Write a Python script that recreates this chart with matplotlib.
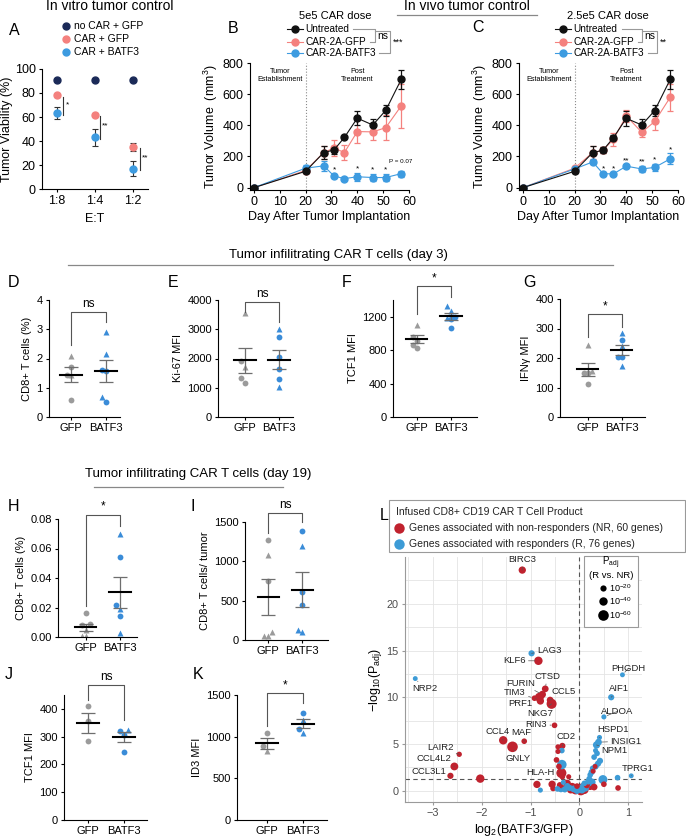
import numpy as np
import matplotlib.pyplot as plt
from matplotlib.patches import Rectangle

plt.rcParams['font.family'] = ['Liberation Sans', 'DejaVu Sans']
plt.rcParams['mathtext.fontset'] = 'custom'
plt.rcParams['mathtext.rm'] = 'Liberation Sans'
plt.rcParams['mathtext.it'] = 'Liberation Sans:italic'
plt.rcParams['axes.linewidth'] = 0.8

# ---------------- data ----------------
# A: in vitro tumor control
et_ratio = ['1:8', '1:4', '1:2']
a_nocar = [91, 91, 91]
a_nocar_err = [0.8, 0.8, 0.8]
a_gfp = [78, 62, 35]
a_gfp_err = [1, 1, 3]
a_batf3 = [63, 43, 17]
a_batf3_err = [5, 7, 6]
a_sig = ['*', '**', '**']

# B, C: tumor volume over time
days = [0, 20, 27, 31, 35, 40, 46, 51, 57]
b_unt = [0, 105, 225, 242, 322, 446, 402, 496, 695]
b_unt_err = [0, 10, 40, 25, 10, 45, 40, 35, 60]
b_gfp = [0, 110, 225, 255, 225, 360, 358, 385, 525]
b_gfp_err = [0, 10, 40, 50, 50, 75, 55, 80, 140]
b_bat = [0, 125, 140, 75, 58, 70, 65, 65, 90]
b_bat_err = [0, 20, 30, 10, 8, 25, 25, 25, 20]
b_sig = ['', '', '', '*', '', '*', '*', '*', '']

c_unt = [0, 105, 225, 240, 320, 445, 402, 495, 695]
c_unt_err = [0, 8, 45, 20, 15, 50, 40, 35, 60]
c_gfp = [0, 125, 225, 240, 310, 460, 355, 425, 580]
c_gfp_err = [0, 10, 40, 20, 40, 40, 30, 55, 85]
c_bat = [0, 120, 165, 90, 88, 138, 120, 130, 185]
c_bat_err = [0, 10, 15, 8, 8, 10, 20, 25, 35]
c_sig = ['', '', '', '*', '*', '**', '**', '*', '*']

# D-K: tumor infiltrating CAR T cells (values, marker per mouse)
d_gfp = [2.07, 1.70, 1.45, 1.45, 0.58]
d_gfp_mk = ['^', 'o', 'o', '^', 'o']
d_bat = [2.92, 2.15, 1.60, 1.58, 0.67, 0.52]
d_bat_mk = ['^', '^', 'o', 'o', '^', 'o']

e_gfp = [3550, 1720, 1900, 1320, 1170]
e_gfp_mk = ['^', '^', 'o', 'o', 'o']
e_bat = [3020, 2730, 2060, 1650, 1300, 1020]
e_bat_mk = ['^', 'o', 'o', 'o', 'o', '^']

f_gfp = [1100, 960, 910, 860, 820]
f_gfp_mk = ['^', 'o', 'o', 'o', 'o']
f_bat = [1330, 1270, 1190, 1195, 1175, 1060]
f_bat_mk = ['^', '^', '^', 'o', 'o', 'o']

g_gfp = [243, 155, 150, 148, 112]
g_gfp_mk = ['^', '^', 'o', 'o', 'o']
g_bat = [285, 262, 240, 205, 203, 172]
g_bat_mk = ['^', 'o', '^', 'o', 'o', '^']

h_gfp = [0.0165, 0.009, 0.008, 0.005, 0.001, 0.0008]
h_gfp_mk = ['o', 'o', 'o', '^', '^', '^']
h_bat = [0.070, 0.054, 0.022, 0.019, 0.014, 0.003]
h_bat_mk = ['^', 'o', 'o', '^', 'o', '^']

i_gfp = [1270, 1080, 750, 100, 50, 50]
i_gfp_mk = ['o', '^', 'o', '^', '^', '^']
i_bat = [1380, 1190, 610, 440, 130, 100]
i_bat_mk = ['o', '^', 'o', 'o', '^', '^']

j_gfp = [410, 355, 283]
j_gfp_mk = ['o', 'o', 'o']
j_bat = [325, 322, 305, 245]
j_bat_mk = ['^', 'o', 'o', 'o']

k_gfp = [1040, 890, 830]
k_gfp_mk = ['o', 'o', '^']
k_bat = [1280, 1200, 1090, 1050]
k_bat_mk = ['o', '^', 'o', '^']

# L: volcano, x = log2(BATF3/GFP), y = -log10(Padj), s = -log10(Padj R vs NR)
nr_gene = ['BIRC3', 'KLF6', 'CTSD', 'FURIN', 'TIM3', 'PRF1', 'CCL5', 'NKG7', '',
           'RIN3', 'CCL4', 'MAF', 'GNLY', 'LAIR2', 'CCL4L2', 'CCL3L1', '', 'CD2', 'HLA-H',
           '', '', '', '', '', '', '', '', '', '', '', '', '', '', '', '', '', '', '', '',
           '', '', '', '', '', '']
nr_x = [-1.17, -0.84, -0.70, -0.76, -0.92, -0.82, -0.60, -0.57, -0.80,
        -0.51, -1.56, -1.13, -1.37, -2.46, -2.56, -2.64, -2.03, -0.35, -0.37,
        -0.87, -0.56, -0.54, -0.47, -0.44, -0.44, -0.42, -0.35, -0.22, -0.25, -0.15, -0.08,
        0.03, 0.10, 0.22, 0.30, 0.28, 0.32, 0.50, 0.79, -0.30, -0.40, 0.15, -0.05, -0.18, 0.05]
nr_y = [23.6, 13.9, 10.9, 10.3, 9.9, 10.0, 9.7, 9.3, 9.6,
        7.0, 5.4, 5.3, 4.7, 3.9, 2.6, 1.6, 1.3, 4.8, 1.9,
        0.68, 0.7, 0.25, 3.3, 4.7, 4.2, 2.6, 1.5, 1.5, 0.8, 0.4, 0.15,
        0.05, 0.1, 0.5, 0.4, 2.1, 2.6, 0.7, 0.3, 0.3, 0.6, 0.6, 0.5, 0.1, 0.3]
nr_s = [30, 40, 25, 30, 15, 45, 25, 55, 30,
        15, 40, 15, 60, 12, 35, 20, 40, 20, 55,
        30, 30, 15, 15, 10, 10, 15, 15, 10, 30, 40, 55,
        55, 40, 35, 25, 10, 8, 15, 15, 20, 20, 20, 15, 30, 45]

r_gene = ['NRP2', 'LAG3', 'PHGDH', 'AIF1', 'ALDOA', 'HSPD1', 'INSIG1', 'NPM1', 'TPRG1',
          '', '', '', '', '', '', '', '', '', '', '', '', '', '', '', '', '', '', '', '',
          '', '', '', '', '', '', '', '', '', '', '']
r_x = [-3.36, -0.98, 0.88, 0.65, 0.50, 0.41, 0.39, 0.35, 1.06,
       0.78, 0.48, -0.36, -0.36, -0.80, -0.33, -0.45, -0.38, -0.30, -0.20, -0.12, -0.05,
       0.05, 0.12, 0.15, 0.18, 0.20, 0.22, 0.25, 0.27, 0.33, 0.38, 0.42, 0.36, 0.33,
       0.08, 0.02, 0.25, 0.10, 0.30, -0.25]
r_y = [12.0, 14.7, 12.4, 10.0, 7.9, 5.7, 5.2, 4.9, 1.6,
       1.4, 1.2, 4.3, 2.8, 0.07, 0.9, 0.2, 0.2, 0.15, 0.3, 0.2, 0.05,
       0.1, 0.3, 0.6, 1.0, 1.3, 1.7, 2.0, 2.4, 2.6, 2.9, 3.2, 4.0, 4.3,
       0.5, 0.2, 0.9, 0.8, 3.6, 0.5]
r_s = [8, 20, 8, 20, 10, 10, 25, 30, 8,
       15, 45, 15, 50, 10, 10, 15, 25, 20, 20, 25, 30,
       30, 30, 25, 20, 15, 15, 20, 15, 20, 20, 20, 15, 10,
       25, 35, 35, 15, 15, 20]

# label placement (text position) for the volcano
lab_pos = {'BIRC3': (-1.17, 24.7), 'LAG3': (-0.62, 15.0), 'KLF6': (-1.33, 13.9),
           'NRP2': (-3.17, 10.9), 'PHGDH': (1.0, 13.1), 'CTSD': (-0.66, 12.2),
           'FURIN': (-1.2, 11.5), 'TIM3': (-1.32, 10.5), 'CCL5': (-0.33, 10.6),
           'PRF1': (-1.2, 9.3), 'NKG7': (-0.8, 8.3), 'RIN3': (-0.88, 7.1),
           'CCL4': (-1.68, 6.3), 'MAF': (-1.19, 6.2), 'GNLY': (-1.25, 3.5),
           'CD2': (-0.28, 5.8), 'HLA-H': (-0.8, 2.0), 'LAIR2': (-2.85, 4.6),
           'CCL4L2': (-2.97, 3.4), 'CCL3L1': (-3.08, 2.1), 'AIF1': (0.8, 10.9),
           'ALDOA': (0.78, 8.5), 'HSPD1': (0.68, 6.5), 'INSIG1': (0.95, 5.3),
           'NPM1': (0.72, 4.3), 'TPRG1': (1.2, 2.4)}

# colours
c_navy = '#1b2a58'
c_salmon = '#f4817e'
c_blue = '#3d9be0'
c_gray = '#9b9b9b'
c_dblue = '#3a8cd8'
c_red = '#c0222e'
c_vblue = '#3d9bd6'

W, H = 686, 840
fig = plt.figure(figsize=(W / 100, H / 100), dpi=100)


def add_ax(l, t, r, b):
    return fig.add_axes([l / W, 1 - b / H, (r - l) / W, (b - t) / H])


def clean(ax, fs=8):
    ax.spines['top'].set_visible(False)
    ax.spines['right'].set_visible(False)
    ax.tick_params(direction='out', length=2.5, width=0.8, labelsize=fs, pad=2)


# ---------- A ----------
axA = add_ax(42, 69, 148, 189)
xa = np.arange(len(et_ratio))
for v, e, c in [(a_nocar, a_nocar_err, c_navy), (a_gfp, a_gfp_err, c_salmon),
                (a_batf3, a_batf3_err, c_blue)]:
    axA.errorbar(xa, v, yerr=e, fmt='o', color=c, ms=5, ecolor='#333333',
                 elinewidth=0.8, capsize=2, capthick=0.8)
for i, xs in enumerate([0.16, 1.13, 2.19]):
    axA.plot([xs, xs], [a_batf3[i] - 1, a_gfp[i] - 1], color='#333333', lw=0.8)
    axA.text(xs + 0.06, (a_batf3[i] + a_gfp[i]) / 2, a_sig[i], fontsize=6, va='center')
axA.set_xlim(-0.4, 2.4)
axA.set_ylim(0, 100)
axA.set_xticks(xa, et_ratio)
axA.set_yticks([0, 20, 40, 60, 80, 100])
clean(axA, 9)
axA.set_ylabel('Tumor Viability (%)', fontsize=9, labelpad=1)
axA.set_xlabel('E:T', fontsize=9, labelpad=4)


# ---------- B, C ----------
def tumor_panel(ax, unt, unt_e, gfp, gfp_e, bat, bat_e, sig):
    for v, e, c in [(gfp, gfp_e, c_salmon), (bat, bat_e, c_blue), (unt, unt_e, '#111111')]:
        ax.errorbar(days, v, yerr=e, color=c, marker='o', ms=5, lw=0.8,
                    elinewidth=0.9, capsize=2.5, capthick=0.9)
    for d, s, v, e in zip(days, sig, bat, bat_e):
        if s:
            ax.text(d, max(v + e + 50, 140) - 35, s, ha='center', va='baseline', fontsize=6)
    ax.plot([20, 20], [-15, 800], ls=':', color='#8a8a8a', lw=0.8)
    ax.text(10, 720, 'Tumor\nEstablishment', ha='center', va='center', fontsize=5.2, linespacing=1.2)
    ax.text(40, 720, 'Post\nTreatment', ha='center', va='center', fontsize=5.2, linespacing=1.2)
    ax.set_xlim(-1.5, 60)
    ax.set_ylim(-15, 800)
    ax.set_xticks([0, 10, 20, 30, 40, 50, 60])
    ax.set_yticks([0, 200, 400, 600, 800])
    clean(ax, 9)
    ax.set_xlabel('Day After Tumor Implantation', fontsize=9, labelpad=2)
    ax.set_ylabel('Tumor Volume  (mm$^3$)', fontsize=9, labelpad=2)


axB = add_ax(250, 63, 409, 190)
tumor_panel(axB, b_unt, b_unt_err, b_gfp, b_gfp_err, b_bat, b_bat_err, b_sig)
axB.text(56.8, 165, 'P = 0.07', ha='center', va='center', fontsize=4.5)
axC = add_ax(519, 63, 678, 190)
tumor_panel(axC, c_unt, c_unt_err, c_gfp, c_gfp_err, c_bat, c_bat_err, c_sig)


# ---------- D-K ----------
def swarm(vals, span):
    offs = np.zeros(len(vals))
    placed = []
    for i in np.argsort(vals):
        for c in [0, -0.12, 0.12, -0.24, 0.24]:
            if all(abs(c - px) > 0.11 or abs(vals[i] - py) > 0.05 * span for px, py in placed):
                offs[i] = c
                placed.append((c, vals[i]))
                break
    return offs


def dot_panel(ax, gfp, gfp_mk, bat, bat_mk, ylim, yticks, ylabel, xlim, bracket, ytl=None):
    for xi, vals, mks, col in [(0, gfp, gfp_mk, c_gray), (1, bat, bat_mk, c_dblue)]:
        offs = swarm(vals, ylim[1] - ylim[0])
        for v, m, o in zip(vals, mks, offs):
            ax.plot(xi + o, v, marker=m, color=col, ms=4.2 if m == 'o' else 4.0, ls='none',
                    mec='none', zorder=2)
        mean = np.mean(vals)
        sem = np.std(vals, ddof=1) / np.sqrt(len(vals))
        ax.errorbar(xi, mean, yerr=sem, color='#6e6e6e', capsize=5, elinewidth=0.9,
                    capthick=0.9, zorder=2.5)
        ax.plot([xi - 0.31, xi + 0.31], [mean, mean], color='black', lw=1.5, zorder=3)
    top, lg, rg, lab = bracket
    ax.plot([0, 0, 1, 1], [lg, top, top, rg], color='#555555', lw=0.8, clip_on=False)
    ax.text(0.5, top + 0.015 * (ylim[1] - ylim[0]), lab, ha='center', va='bottom',
            fontsize=8.5, clip_on=False)
    ax.set_xlim(*xlim)
    ax.set_ylim(*ylim)
    ax.set_xticks([0, 1], ['GFP', 'BATF3'])
    if ytl is None:
        ax.set_yticks(yticks)
    else:
        ax.set_yticks(yticks, ytl)
    clean(ax, 8)
    ax.set_ylabel(ylabel, fontsize=8, labelpad=3)


axD = add_ax(49, 300, 120, 417)
dot_panel(axD, d_gfp, d_gfp_mk, d_bat, d_bat_mk, (0, 4), [0, 1, 2, 3, 4],
          'CD8+ T cells (%)', (-0.63, 1.4), (3.6, 2.45, 3.25, 'ns'))
axE = add_ax(218, 300, 293, 417)
dot_panel(axE, e_gfp, e_gfp_mk, e_bat, e_bat_mk, (0, 4000), [0, 1000, 2000, 3000, 4000],
          'Ki-67 MFI', (-0.79, 1.41), (3930, 3600, 3250, 'ns'))
axF = add_ax(393, 300, 477, 417)
dot_panel(axF, f_gfp, f_gfp_mk, f_bat, f_bat_mk, (0, 1400), [0, 400, 800, 1200],
          'TCF1 MFI', (-0.7, 1.76), (1570, 1230, 1430, '*'))
axG = add_ax(560, 299, 645, 417)
dot_panel(axG, g_gfp, g_gfp_mk, g_bat, g_bat_mk, (0, 400), [0, 100, 200, 300, 400],
          'IFNγ MFI', (-0.82, 1.68), (350, 272, 305, '*'))
axH = add_ax(58, 519, 137, 637)
dot_panel(axH, h_gfp, h_gfp_mk, h_bat, h_bat_mk, (0, 0.08), [0, 0.02, 0.04, 0.06, 0.08],
          'CD8+ T cells (%)', (-0.82, 1.5), (0.083, 0.021, 0.075, '*'),
          ['0.00', '0.02', '0.04', '0.06', '0.08'])
axI = add_ax(245, 522, 328, 640)
dot_panel(axI, i_gfp, i_gfp_mk, i_bat, i_bat_mk, (0, 1500), [0, 500, 1000, 1500],
          'CD8+ T cells/ tumor', (-0.68, 1.75), (1615, 1360, 1500, 'ns'))
axJ = add_ax(64, 695, 147, 820)
dot_panel(axJ, j_gfp, j_gfp_mk, j_bat, j_bat_mk, (0, 450), [0, 100, 200, 300, 400],
          'TCF1 MFI', (-0.67, 1.64), (487, 432, 360, 'ns'))
axK = add_ax(237, 695, 327, 820)
dot_panel(axK, k_gfp, k_gfp_mk, k_bat, k_bat_mk, (0, 1500), [0, 500, 1000, 1500],
          'ID3 MFI', (-0.83, 1.67), (1520, 1128, 1400, '*'))


# ---------- L ----------
def dot_area(s):
    return ((4 + 0.11 * np.asarray(s, dtype=float)) * 0.72) ** 2


axL = add_ax(405, 557, 642, 802)
vx = np.array(nr_x + r_x)
vy = np.array(nr_y + r_y)
vs = np.array(nr_s + r_s)
vc = np.array([c_red] * len(nr_x) + [c_vblue] * len(r_x))
order = np.argsort(-vs, kind='stable')
axL.scatter(vx[order], vy[order], s=dot_area(vs[order]), c=vc[order], linewidths=0, zorder=3)
axL.axhline(-np.log10(0.05), color='#555555', ls=(0, (4, 3)), lw=0.8, zorder=2)
axL.axvline(0, color='#555555', ls=(0, (4, 3)), lw=0.8, zorder=2)
for genes, xs, ys in [(nr_gene, nr_x, nr_y), (r_gene, r_x, r_y)]:
    for g, x, y in zip(genes, xs, ys):
        if g:
            axL.annotate(g, xy=(x, y), xytext=lab_pos[g], fontsize=6.8, ha='center',
                         va='center', color='#222222', zorder=4,
                         arrowprops=dict(arrowstyle='-', color='#555555', lw=0.5,
                                         shrinkA=0, shrinkB=2.5))
axL.set_xlim(-3.57, 1.28)
axL.set_ylim(-1.2, 25)
axL.set_xticks([-3, -2, -1, 0, 1])
axL.set_yticks([0, 5, 10, 15, 20])
axL.set_xticks(np.arange(-3.5, 1.3, 0.5), minor=True)
axL.set_yticks(np.arange(0, 25, 2.5), minor=True)
axL.grid(which='both', color='#e4e4e4', lw=0.6)
axL.set_axisbelow(True)
for s in ['top', 'right']:
    axL.spines[s].set_visible(False)
for s in ['left', 'bottom']:
    axL.spines[s].set_color('#9a9a9a')
axL.tick_params(which='major', direction='out', length=2.5, color='#9a9a9a',
                labelsize=7.8, labelcolor='#4d4d4d', pad=2)
axL.tick_params(which='minor', length=0)
axL.set_xlabel(r'$\mathregular{log_2(BATF3/GFP)}$', fontsize=9, labelpad=3)
axL.set_ylabel(r'$\mathregular{-log_{10}(P_{adj})}$', fontsize=9, labelpad=2)

# ---------- overlay: headers, panel letters, legends ----------
ov = fig.add_axes([0, 0, 1, 1])
ov.set_xlim(0, W)
ov.set_ylim(H, 0)
ov.axis('off')
ov.set_zorder(10)
ov.patch.set_alpha(0)

ov.text(110, 10.5, 'In vitro tumor control', ha='center', va='baseline', fontsize=10)
ov.text(467, 10.5, 'In vivo tumor control', ha='center', va='baseline', fontsize=10)
ov.plot([397, 537], [15, 15], color='#888888', lw=0.9)
ov.text(335, 19, '5e5 CAR dose', ha='center', va='baseline', fontsize=8)
ov.text(608, 19, '2.5e5 CAR dose', ha='center', va='baseline', fontsize=8)
ov.text(338, 255, 'Tumor infilitrating CAR T cells (day 3)', ha='center', va='center', fontsize=9.5)
ov.plot([68, 613], [265, 265], color='#888888', lw=0.9)
ov.text(198, 474, 'Tumor infilitrating CAR T cells (day 19)', ha='center', va='center', fontsize=9.5)
ov.plot([94, 283], [487, 487], color='#888888', lw=0.9)

for lab, x, y in [('A', 9, 35), ('B', 228, 33), ('C', 472, 32), ('D', 8, 287), ('E', 168, 287),
                  ('F', 342, 287), ('G', 523, 287), ('H', 8, 511), ('I', 190, 511),
                  ('J', 5, 679), ('K', 193, 679), ('L', 380, 520)]:
    ov.text(x, y, lab, ha='left', va='baseline', fontsize=11.5)

# A legend
for lab, c, y in [('no CAR + GFP', c_navy, 26), ('CAR + GFP', c_salmon, 39), ('CAR + BATF3', c_blue, 52)]:
    ov.plot(66, y, 'o', color=c, ms=5)
    ov.text(74, y, lab, va='center', fontsize=7.5)


# B / C legends with significance brackets
def tumor_legend(x0, brk):
    for lab, c, y in [('Untreated', '#111111', 29), ('CAR-2A-GFP', c_salmon, 42),
                      ('CAR-2A-BATF3', c_blue, 53)]:
        ov.plot([x0 - 8, x0 + 8], [y, y], color=c, lw=0.8)
        ov.plot(x0, y, 'o', color=c, ms=5)
        ov.text(x0 + 10, y, lab, va='center', fontsize=7.2)
    u_end, g_end, b_end, v1, v2, s2 = brk
    ov.plot([u_end, v1, v1, g_end], [29, 29, 42, 42], color='#999999', lw=0.8)
    ov.text(v1 + 2, 36, 'ns', va='center', fontsize=7.5)
    ov.plot([v1, v2, v2, b_end], [31, 31, 53, 53], color='#999999', lw=0.8)
    ov.text(v2 + 3, 42, s2, va='center', fontsize=6.5)


tumor_legend(295, (353, 370, 379, 375, 390, '***'))
tumor_legend(563, (622, 638, 648, 642, 657, '**'))

# L legends
ov.add_patch(Rectangle((389, 500), 296, 52, fc='white', ec='#9a9a9a', lw=0.8))
ov.text(396, 512, 'Infused CD8+ CD19 CAR T Cell Product', va='center', fontsize=7.5, color='#222222')
ov.plot(399, 528, 'o', color=c_red, ms=7.5, mec='none')
ov.text(409, 528, 'Genes associated with non-responders (NR, 60 genes)', va='center',
        fontsize=7.5, color='#222222')
ov.plot(399, 544, 'o', color=c_vblue, ms=7.5, mec='none')
ov.text(409, 544, 'Genes associated with responders (R, 76 genes)', va='center',
        fontsize=7.5, color='#222222')

ov.add_patch(Rectangle((584, 556), 54, 71, fc='white', ec='#9a9a9a', lw=0.8))
ov.text(611, 563, r'P$_{\mathregular{adj}}$', ha='center', va='center', fontsize=7)
ov.text(611, 576, '(R vs. NR)', ha='center', va='center', fontsize=6.8)
for sv, y, lab in [(20, 588, r'10$^{\mathregular{-20}}$'), (40, 601, r'10$^{\mathregular{-40}}$'),
                   (60, 615, r'10$^{\mathregular{-60}}$')]:
    ov.scatter([603], [y], s=dot_area([sv]), color='black', linewidths=0)
    ov.text(609, y, lab, va='center', fontsize=6.5)

fig.savefig('out.png', dpi=100)
